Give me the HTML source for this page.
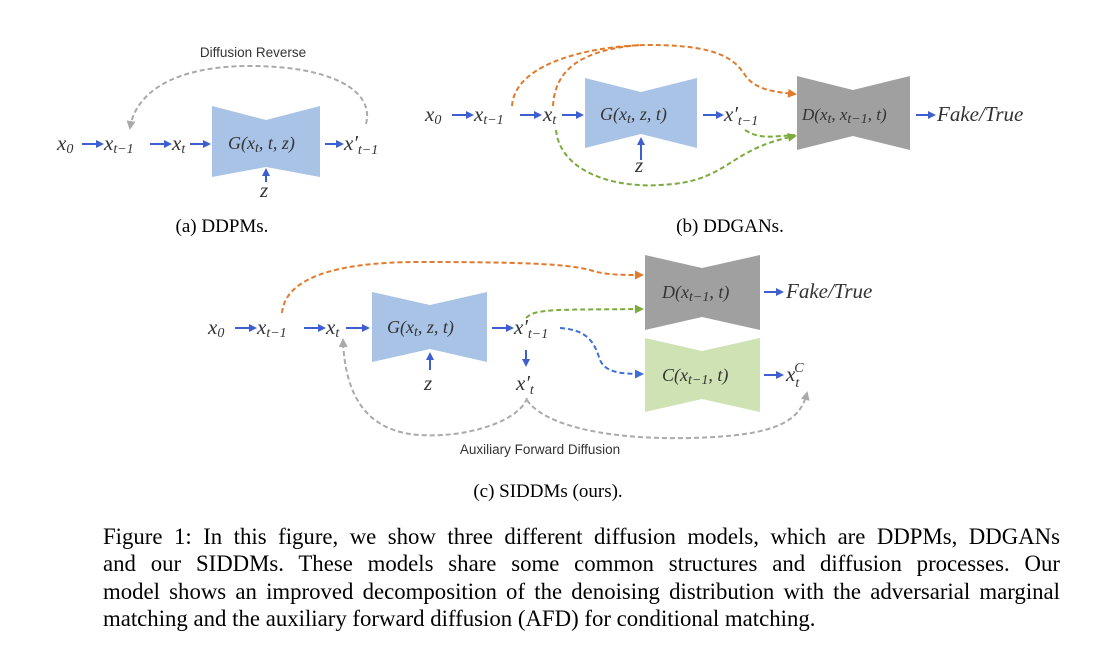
<!DOCTYPE html>
<html><head><meta charset="utf-8"><style>
body{margin:0;background:#fff;width:1115px;height:659px;overflow:hidden}
.m{font-family:"Liberation Serif",serif;font-style:italic;font-size:21px;fill:#333}
.s{font-family:"Liberation Serif",serif;font-size:14px;font-style:italic;fill:#333}
.lb{font-family:"Liberation Sans",sans-serif;font-size:13.5px;fill:#333}
.cap{font-family:"Liberation Serif",serif;font-size:19px;fill:#000}
.fig{position:absolute;left:103px;top:523px;width:957px;font-family:"Liberation Serif",serif;font-size:22.8px;line-height:27.3px;color:#000}
.fig div{text-align:justify;text-align-last:justify;white-space:nowrap}
.fig div.l{text-align-last:left}
</style></head><body>
<svg width="1115" height="659" style="position:absolute;left:0;top:0">
<defs>
<marker id="ab" markerWidth="8" markerHeight="8" refX="6" refY="4" orient="auto" markerUnits="userSpaceOnUse"><path d="M0,0 L8,4 L0,8z" fill="#3d5fcf"/></marker>
<marker id="ao" markerWidth="9" markerHeight="9" refX="7" refY="4.5" orient="auto" markerUnits="userSpaceOnUse"><path d="M0,0 L9,4.5 L0,9z" fill="#e07b2e"/></marker>
<marker id="ag" markerWidth="9" markerHeight="9" refX="7" refY="4.5" orient="auto" markerUnits="userSpaceOnUse"><path d="M0,0 L9,4.5 L0,9z" fill="#7aab3c"/></marker>
<marker id="ay" markerWidth="9" markerHeight="9" refX="7" refY="4.5" orient="auto" markerUnits="userSpaceOnUse"><path d="M0,0 L9,4.5 L0,9z" fill="#aaa"/></marker>
<marker id="abd" markerWidth="9" markerHeight="9" refX="7" refY="4.5" orient="auto" markerUnits="userSpaceOnUse"><path d="M0,0 L9,4.5 L0,9z" fill="#3d6fd6"/></marker>
</defs>
<g stroke-width="2" fill="none" stroke-dasharray="5,3">
<path d="M366,124 C375,90 330,66 250,66 C170,66 135,95 130,128" stroke="#aaa" marker-end="url(#ay)"/>
<path d="M512,106 C515,60 600,45 650,45 C720,45 735,60 745,75 C755,90 775,92 795,94" stroke="#e07b2e" marker-end="url(#ao)"/>
<path d="M553,106 C555,70 580,50 640,45" stroke="#e07b2e"/>
<path d="M556,130 C560,170 610,188 660,185 C730,182 725,150 795,136" stroke="#7aab3c" marker-end="url(#ag)"/>
<path d="M745,130 C760,140 775,136 795,135" stroke="#7aab3c"/>
<path d="M282,313 C285,280 330,262 420,262 C540,262 570,265 590,270 C605,275 620,275 642,275" stroke="#e07b2e" marker-end="url(#ao)"/>
<path d="M526,318 C535,308 560,310 642,309" stroke="#7aab3c" marker-end="url(#ag)"/>
<path d="M560,328 C590,330 595,345 600,360 C605,372 620,374 642,374" stroke="#3d6fd6" marker-end="url(#abd)"/>
<path d="M527,398 C520,420 470,438 420,435 C370,432 345,400 343,340" stroke="#aaa" marker-end="url(#ay)"/>
<path d="M527,400 C540,420 590,440 690,438 C780,436 800,420 807,393" stroke="#aaa" marker-end="url(#ay)"/>
</g>
<polygon points="212,106 266,120 320,106 320,177 266,167 212,177" fill="#a8c3e6"/>
<polygon points="585,78 641,92 697,78 697,148 641,134 585,148" fill="#a8c3e6"/>
<polygon points="797,76 853,90 910,76 910,150 853,136 797,150" fill="#a0a0a0"/>
<polygon points="372,292 430,305 487,292 487,362 430,349 372,362" fill="#a8c3e6"/>
<polygon points="645,255 702,268 760,255 760,330 702,317 645,330" fill="#a0a0a0"/>
<polygon points="645,338 702,351 760,338 760,412 702,399 645,412" fill="#cfe2b4"/>
<g stroke="#3d5fcf" stroke-width="2" marker-end="url(#ab)">
<line x1="82" y1="144" x2="102" y2="144"/><line x1="150" y1="144" x2="170" y2="144"/><line x1="190" y1="144" x2="209" y2="144"/>
<line x1="325" y1="144" x2="342" y2="144"/><line x1="266" y1="182" x2="266" y2="170"/>
<line x1="452" y1="115" x2="472" y2="115"/><line x1="520" y1="115" x2="540" y2="115"/><line x1="562" y1="115" x2="582" y2="115"/>
<line x1="703" y1="115" x2="722" y2="115"/><line x1="916" y1="115" x2="934" y2="115"/><line x1="641" y1="160" x2="641" y2="139"/>
<line x1="235" y1="328" x2="255" y2="328"/><line x1="304" y1="328" x2="324" y2="328"/><line x1="346" y1="328" x2="368" y2="328"/>
<line x1="492" y1="328" x2="512" y2="328"/><line x1="764" y1="292" x2="782" y2="292"/><line x1="764" y1="375" x2="782" y2="375"/>
<line x1="430" y1="370" x2="430" y2="354"/><line x1="526" y1="350" x2="526" y2="365"/>
</g>
<text class="m" x="57" y="150">x<tspan class="s" dy="3">0</tspan></text>
<text class="m" x="104" y="150">x<tspan class="s" dy="3">t−1</tspan></text>
<text class="m" x="172" y="150">x<tspan class="s" dy="3">t</tspan></text>
<text class="m" x="228" y="149" style="font-size:18px">G(x<tspan class="s" dy="3">t</tspan><tspan dy="-3">, t, z)</tspan></text>
<text class="m" x="344" y="150">x′<tspan class="s" dy="4">t−1</tspan></text>
<text class="m" x="260" y="197">z</text>
<text class="lb" x="253" y="57" text-anchor="middle">Diffusion Reverse</text>
<text class="cap" x="222" y="232" text-anchor="middle">(a) DDPMs.</text>
<text class="m" x="425" y="121">x<tspan class="s" dy="3">0</tspan></text>
<text class="m" x="474" y="121">x<tspan class="s" dy="3">t−1</tspan></text>
<text class="m" x="543" y="121">x<tspan class="s" dy="3">t</tspan></text>
<text class="m" x="600" y="120" style="font-size:18px">G(x<tspan class="s" dy="3">t</tspan><tspan dy="-3">, z, t)</tspan></text>
<text class="m" x="724" y="121">x′<tspan class="s" dy="4">t−1</tspan></text>
<text class="m" x="802" y="120" style="font-size:17px">D(x<tspan class="s" dy="3">t</tspan><tspan dy="-3">, x</tspan><tspan class="s" dy="3">t−1</tspan><tspan dy="-3">, t)</tspan></text>
<text class="m" x="937" y="121">Fake/True</text>
<text class="m" x="635" y="172">z</text>
<text class="cap" x="730" y="232" text-anchor="middle">(b) DDGANs.</text>
<text class="m" x="208" y="334">x<tspan class="s" dy="3">0</tspan></text>
<text class="m" x="257" y="334">x<tspan class="s" dy="3">t−1</tspan></text>
<text class="m" x="326" y="334">x<tspan class="s" dy="3">t</tspan></text>
<text class="m" x="387" y="333" style="font-size:18px">G(x<tspan class="s" dy="3">t</tspan><tspan dy="-3">, z, t)</tspan></text>
<text class="m" x="514" y="334">x′<tspan class="s" dy="4">t−1</tspan></text>
<text class="m" x="516" y="390">x′<tspan class="s" dy="4">t</tspan></text>
<text class="m" x="424" y="390">z</text>
<text class="m" x="662" y="298" style="font-size:18px">D(x<tspan class="s" dy="3">t−1</tspan><tspan dy="-3">, t)</tspan></text>
<text class="m" x="662" y="381" style="font-size:18px">C(x<tspan class="s" dy="3">t−1</tspan><tspan dy="-3">, t)</tspan></text>
<text class="m" x="786" y="298">Fake/True</text>
<text class="m" x="786" y="381">x<tspan class="s" dy="6">t</tspan><tspan class="s" dx="-5" dy="-15">C</tspan></text>
<text class="lb" x="540" y="454" text-anchor="middle">Auxiliary Forward Diffusion</text>
<text class="cap" x="548" y="497" text-anchor="middle">(c) SIDDMs (ours).</text>
</svg>
<div class="fig">
<div>Figure 1: In this figure, we show three different diffusion models, which are DDPMs, DDGANs</div>
<div>and our SIDDMs. These models share some common structures and diffusion processes. Our</div>
<div>model shows an improved decomposition of the denoising distribution with the adversarial marginal</div>
<div class="l">matching and the auxiliary forward diffusion (AFD) for conditional matching.</div>
</div>
</body></html>
